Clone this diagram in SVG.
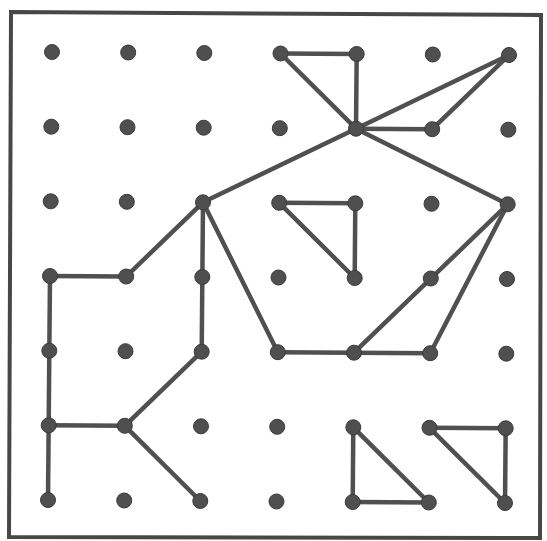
<svg xmlns="http://www.w3.org/2000/svg" width="547" height="541" viewBox="0 0 547 541">
<style>
.dot{fill:#4f4f4f;stroke:#3a3a3a;stroke-width:1}
.ln{stroke:#505050;stroke-width:4.5;stroke-linecap:round;fill:none}
.frame{fill:none;stroke:#474747;stroke-width:4}
</style>
<rect width="547" height="541" fill="#ffffff"/>
<path id="frame" class="frame" d="M11,12 L541,15 L540,538 L9,537 Z"/>
<g id="connectors">
<line class="ln" x1="280.5" y1="53.5" x2="356.7" y2="54"/>
<line class="ln" x1="280.5" y1="53.5" x2="356" y2="128.7"/>
<line class="ln" x1="356.7" y1="54" x2="356" y2="128.7"/>
<line class="ln" x1="509" y1="55" x2="356" y2="128.7"/>
<line class="ln" x1="509" y1="55" x2="432.2" y2="129.2"/>
<line class="ln" x1="356" y1="128.7" x2="432.2" y2="129.2"/>
<line class="ln" x1="356" y1="128.7" x2="203" y2="202.3"/>
<line class="ln" x1="356" y1="128.7" x2="507.7" y2="204.3"/>
<line class="ln" x1="203" y1="202.3" x2="126.2" y2="276.5"/>
<line class="ln" x1="126.2" y1="276.5" x2="50" y2="276"/>
<line class="ln" x1="50" y1="276" x2="48" y2="500"/>
<line class="ln" x1="203" y1="202.3" x2="201.7" y2="351.7"/>
<line class="ln" x1="201.7" y1="351.7" x2="124.8" y2="425.8"/>
<line class="ln" x1="124.8" y1="425.8" x2="48.7" y2="425.3"/>
<line class="ln" x1="124.8" y1="425.8" x2="200.3" y2="501"/>
<line class="ln" x1="203" y1="202.3" x2="277.8" y2="352.2"/>
<line class="ln" x1="277.8" y1="352.2" x2="430.2" y2="353.2"/>
<line class="ln" x1="354" y1="352.7" x2="507.7" y2="204.3"/>
<line class="ln" x1="430.2" y1="353.2" x2="507.7" y2="204.3"/>
<line class="ln" x1="279.2" y1="202.8" x2="355.3" y2="203.3"/>
<line class="ln" x1="355.3" y1="203.3" x2="354.7" y2="278"/>
<line class="ln" x1="279.2" y1="202.8" x2="354.7" y2="278"/>
<line class="ln" x1="353.3" y1="427.3" x2="352.7" y2="502"/>
<line class="ln" x1="352.7" y1="502" x2="428.8" y2="502.5"/>
<line class="ln" x1="353.3" y1="427.3" x2="428.8" y2="502.5"/>
<line class="ln" x1="429.5" y1="427.8" x2="505.7" y2="428.3"/>
<line class="ln" x1="505.7" y1="428.3" x2="505" y2="503"/>
<line class="ln" x1="429.5" y1="427.8" x2="505" y2="503"/>
</g>
<g id="dots">
<g id="d00"><circle class="dot" cx="52" cy="52" r="7.5"/></g>
<g id="d10"><circle class="dot" cx="128.2" cy="52.5" r="7.5"/></g>
<g id="d20"><circle class="dot" cx="204.3" cy="53" r="7.5"/></g>
<g id="d30"><circle class="dot" cx="280.5" cy="53.5" r="7.5"/></g>
<g id="d40"><circle class="dot" cx="356.7" cy="54" r="7.5"/></g>
<g id="d50"><circle class="dot" cx="432.8" cy="54.5" r="7.5"/></g>
<g id="d60"><circle class="dot" cx="509" cy="55" r="7.5"/></g>
<g id="d01"><circle class="dot" cx="51.3" cy="126.7" r="7.5"/></g>
<g id="d11"><circle class="dot" cx="127.5" cy="127.2" r="7.5"/></g>
<g id="d21"><circle class="dot" cx="203.7" cy="127.7" r="7.5"/></g>
<g id="d31"><circle class="dot" cx="279.8" cy="128.2" r="7.5"/></g>
<g id="d41"><circle class="dot" cx="356" cy="128.7" r="7.5"/></g>
<g id="d51"><circle class="dot" cx="432.2" cy="129.2" r="7.5"/></g>
<g id="d61"><circle class="dot" cx="508.3" cy="129.7" r="7.5"/></g>
<g id="d02"><circle class="dot" cx="50.7" cy="201.3" r="7.5"/></g>
<g id="d12"><circle class="dot" cx="126.8" cy="201.8" r="7.5"/></g>
<g id="d22"><circle class="dot" cx="203" cy="202.3" r="7.5"/></g>
<g id="d32"><circle class="dot" cx="279.2" cy="202.8" r="7.5"/></g>
<g id="d42"><circle class="dot" cx="355.3" cy="203.3" r="7.5"/></g>
<g id="d52"><circle class="dot" cx="431.5" cy="203.8" r="7.5"/></g>
<g id="d62"><circle class="dot" cx="507.7" cy="204.3" r="7.5"/></g>
<g id="d03"><circle class="dot" cx="50" cy="276" r="7.5"/></g>
<g id="d13"><circle class="dot" cx="126.2" cy="276.5" r="7.5"/></g>
<g id="d23"><circle class="dot" cx="202.3" cy="277" r="7.5"/></g>
<g id="d33"><circle class="dot" cx="278.5" cy="277.5" r="7.5"/></g>
<g id="d43"><circle class="dot" cx="354.7" cy="278" r="7.5"/></g>
<g id="d53"><circle class="dot" cx="430.8" cy="278.5" r="7.5"/></g>
<g id="d63"><circle class="dot" cx="507" cy="279" r="7.5"/></g>
<g id="d04"><circle class="dot" cx="49.3" cy="350.7" r="7.5"/></g>
<g id="d14"><circle class="dot" cx="125.5" cy="351.2" r="7.5"/></g>
<g id="d24"><circle class="dot" cx="201.7" cy="351.7" r="7.5"/></g>
<g id="d34"><circle class="dot" cx="277.8" cy="352.2" r="7.5"/></g>
<g id="d44"><circle class="dot" cx="354" cy="352.7" r="7.5"/></g>
<g id="d54"><circle class="dot" cx="430.2" cy="353.2" r="7.5"/></g>
<g id="d64"><circle class="dot" cx="506.3" cy="353.7" r="7.5"/></g>
<g id="d05"><circle class="dot" cx="48.7" cy="425.3" r="7.5"/></g>
<g id="d15"><circle class="dot" cx="124.8" cy="425.8" r="7.5"/></g>
<g id="d25"><circle class="dot" cx="201" cy="426.3" r="7.5"/></g>
<g id="d35"><circle class="dot" cx="277.2" cy="426.8" r="7.5"/></g>
<g id="d45"><circle class="dot" cx="353.3" cy="427.3" r="7.5"/></g>
<g id="d55"><circle class="dot" cx="429.5" cy="427.8" r="7.5"/></g>
<g id="d65"><circle class="dot" cx="505.7" cy="428.3" r="7.5"/></g>
<g id="d06"><circle class="dot" cx="48" cy="500" r="7.5"/></g>
<g id="d16"><circle class="dot" cx="124.2" cy="500.5" r="7.5"/></g>
<g id="d26"><circle class="dot" cx="200.3" cy="501" r="7.5"/></g>
<g id="d36"><circle class="dot" cx="276.5" cy="501.5" r="7.5"/></g>
<g id="d46"><circle class="dot" cx="352.7" cy="502" r="7.5"/></g>
<g id="d56"><circle class="dot" cx="428.8" cy="502.5" r="7.5"/></g>
<g id="d66"><circle class="dot" cx="505" cy="503" r="7.5"/></g>
</g>
</svg>
